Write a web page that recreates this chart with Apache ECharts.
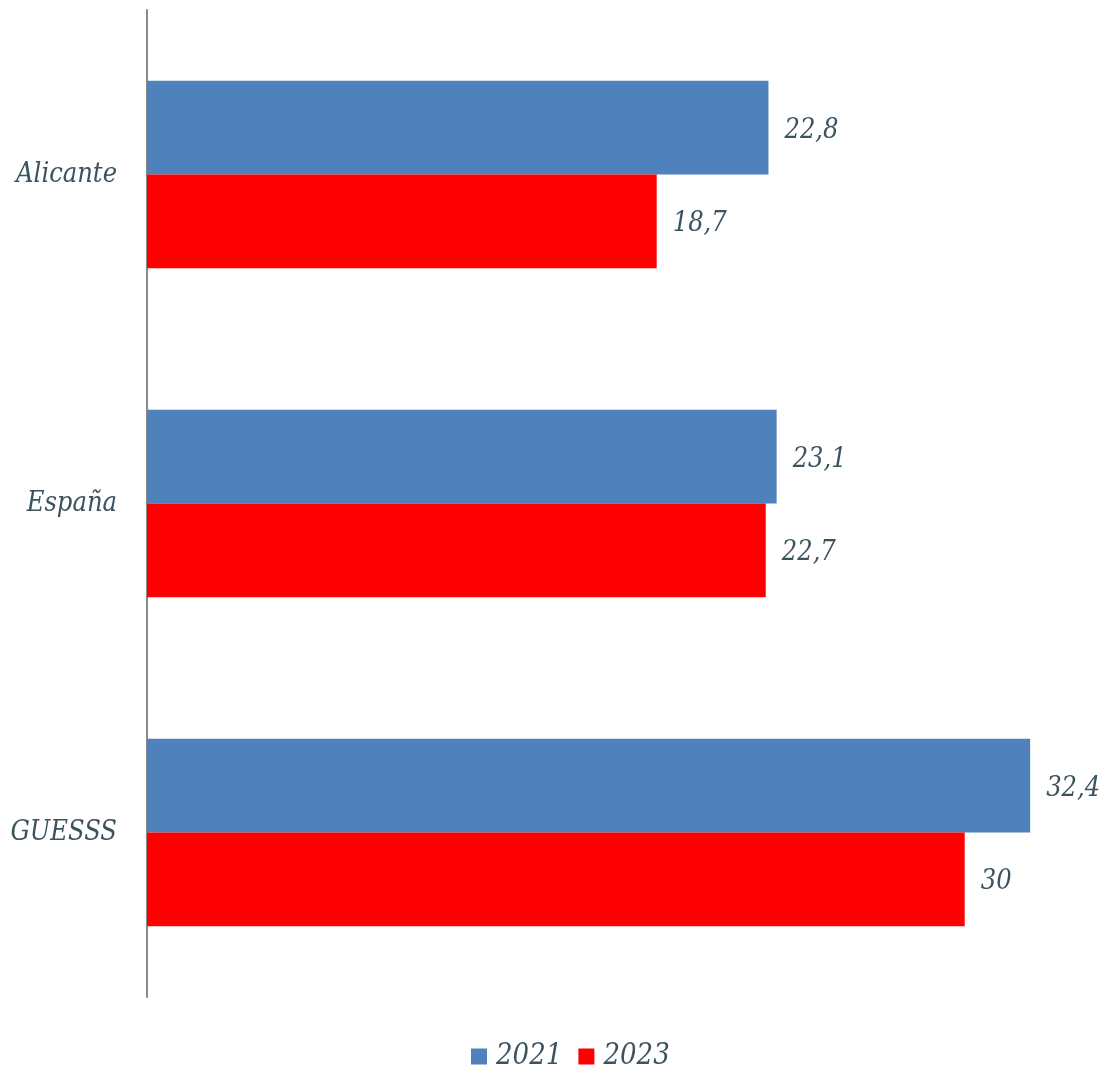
<!DOCTYPE html>
<html><head><meta charset="utf-8">
<script src="https://cdn.jsdelivr.net/npm/echarts@6/dist/echarts.min.js"></script>
<style>html,body{margin:0;padding:0;background:#fff}#c{width:1106px;height:1065px}</style>
</head><body><div id="c"></div>
<script>
const categories = ['Alicante', 'España', 'GUESSS'];
const values2021 = [22.8, 23.1, 32.4];
const values2023 = [18.7, 22.7, 30];
const seriesNames = ['2021', '2023'];

const FONT = '"DejaVu Serif Condensed", "DejaVu Serif"';
const TXT = '#3B535F';
const chart = echarts.init(document.getElementById('c'));
const lbl = {
  show: true, position: 'right', distance: 16,
  fontFamily: FONT, fontStyle: 'italic', fontSize: 27, color: TXT,
  offset: [0, 3],
  formatter: p => String(p.value).replace('.', ',')
};
chart.setOption({
  animation: false,
  grid: {left: 147, right: 5, top: 10, bottom: 68, containLabel: false},
  legend: {
    top: 1037, left: 466, itemWidth: 16, itemHeight: 16, itemGap: 16,
    icon: 'rect',
    textStyle: {fontFamily: FONT, fontStyle: 'italic', fontSize: 29, color: TXT, padding: [0, 0, 0, 4]}
  },
  xAxis: {type: 'value', min: 0, max: 35, show: false, splitLine: {show: false}},
  yAxis: {
    type: 'category', data: categories, inverse: true,
    axisLine: {lineStyle: {color: '#8A8A8A', width: 2}},
    axisTick: {show: false},
    axisLabel: {margin: 30, fontFamily: FONT, fontStyle: 'italic', fontSize: 27, color: TXT}
  },
  series: [
    {name: seriesNames[0], type: 'bar', data: values2021, itemStyle: {color: '#4F81BD'},
     barGap: '0%', barCategoryGap: '43%', label: lbl},
    {name: seriesNames[1], type: 'bar', data: values2023, itemStyle: {color: '#FF0000'},
     barGap: '0%', barCategoryGap: '43%', label: lbl}
  ]
});
</script></body></html>
